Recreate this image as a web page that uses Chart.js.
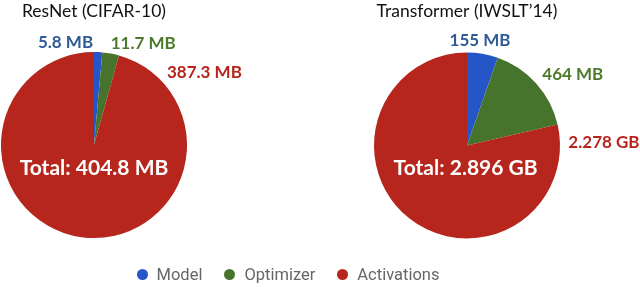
<!DOCTYPE html>
<html><head><meta charset="utf-8">
<script src="https://cdn.jsdelivr.net/npm/chart.js@4/dist/chart.umd.min.js"></script>
<style>
html,body{margin:0;padding:0;background:#fff;width:640px;height:287px;overflow:hidden;}
.c{position:absolute;top:0;}
#legend{position:absolute;top:265px;left:0;width:576px;display:flex;justify-content:center;font-family:Roboto,sans-serif;font-size:16.5px;color:#666;}
#legend span.item{display:flex;align-items:center;margin:0 11px;}
#legend span.dot{width:11px;height:11px;border-radius:50%;margin-right:9px;display:inline-block;}
</style></head>
<body>
<div class="c" style="left:0"><canvas id="c1" width="320" height="287"></canvas></div>
<div class="c" style="left:320px"><canvas id="c2" width="320" height="287"></canvas></div>
<div id="legend"></div>
<script>
const categories = ["Model", "Optimizer", "Activations"];
const resnetValues = [5.8, 11.7, 387.3];          // MB
const transformerValues = [155, 464, 2278];       // MB
const resnetLabels = ["5.8 MB", "11.7 MB", "387.3 MB"];
const transformerLabels = ["155 MB", "464 MB", "2.278 GB"];
const resnetTotal = "Total: 404.8 MB";
const transformerTotal = "Total: 2.896 GB";
const titles = ["ResNet (CIFAR-10)", "Transformer (IWSLT\u201914)"];

const sliceColors = ["#2456c8", "#46742d", "#b6261c"];
const labelColors = ["#2e5b96", "#4c7a2b", "#b8241b"];
const FONT = "Lato, 'Open Sans', sans-serif";

function makePlugin(title, labels, total, anchors, totalAnchor){
  return {
    id: 'annot',
    afterDraw(chart){
      const ctx = chart.ctx;
      const arc = chart.getDatasetMeta(0).data[0];
      const cx = arc.x, cy = arc.y, r = arc.outerRadius;
      ctx.save();
      ctx.textBaseline = 'middle';
      ctx.font = "17.5px " + FONT;
      ctx.fillStyle = "#111";
      ctx.textAlign = 'center';
      ctx.fillText(title, cx, 11);
      ctx.font = "bold 17px " + FONT;
      labels.forEach((t,i)=>{
        const a = anchors[i];
        ctx.fillStyle = labelColors[i];
        ctx.textAlign = a[2];
        ctx.fillText(t, cx + a[0]*r, cy + a[1]*r);
      });
      ctx.font = "bold 21px " + FONT;
      ctx.fillStyle = "#fff";
      ctx.textAlign = 'center';
      ctx.fillText(total, cx + totalAnchor[0]*r, cy + totalAnchor[1]*r);
      ctx.restore();
    }
  };
}

function makeChart(id, values, padding, plugin){
  return new Chart(document.getElementById(id), {
    type: 'pie',
    data: { labels: categories, datasets: [{ data: values, backgroundColor: sliceColors, borderWidth: 0, hoverOffset: 0 }] },
    options: {
      responsive: false, animation: false, devicePixelRatio: 1,
      layout: { padding: padding },
      plugins: { legend: { display: false }, tooltip: { enabled: false } }
    },
    plugins: [plugin]
  });
}

makeChart('c1', resnetValues, {left:0, right:132, top:52, bottom:49},
  makePlugin(titles[0], resnetLabels, resnetTotal,
    [[-0.01,-1.10,'right'],[0.18,-1.09,'left'],[0.785,-0.775,'left']], [0,0.25]));
makeChart('c2', transformerValues, {left:54, right:80, top:52, bottom:48},
  makePlugin(titles[1], transformerLabels, transformerTotal,
    [[0.14,-1.13,'center'],[0.81,-0.76,'left'],[1.09,-0.03,'left']], [-0.015,0.24]));

const lg = document.getElementById('legend');
categories.forEach((c,i)=>{
  const s = document.createElement('span'); s.className='item';
  const d = document.createElement('span'); d.className='dot'; d.style.background = sliceColors[i];
  s.appendChild(d); s.appendChild(document.createTextNode(c));
  lg.appendChild(s);
});
</script>
</body></html>
